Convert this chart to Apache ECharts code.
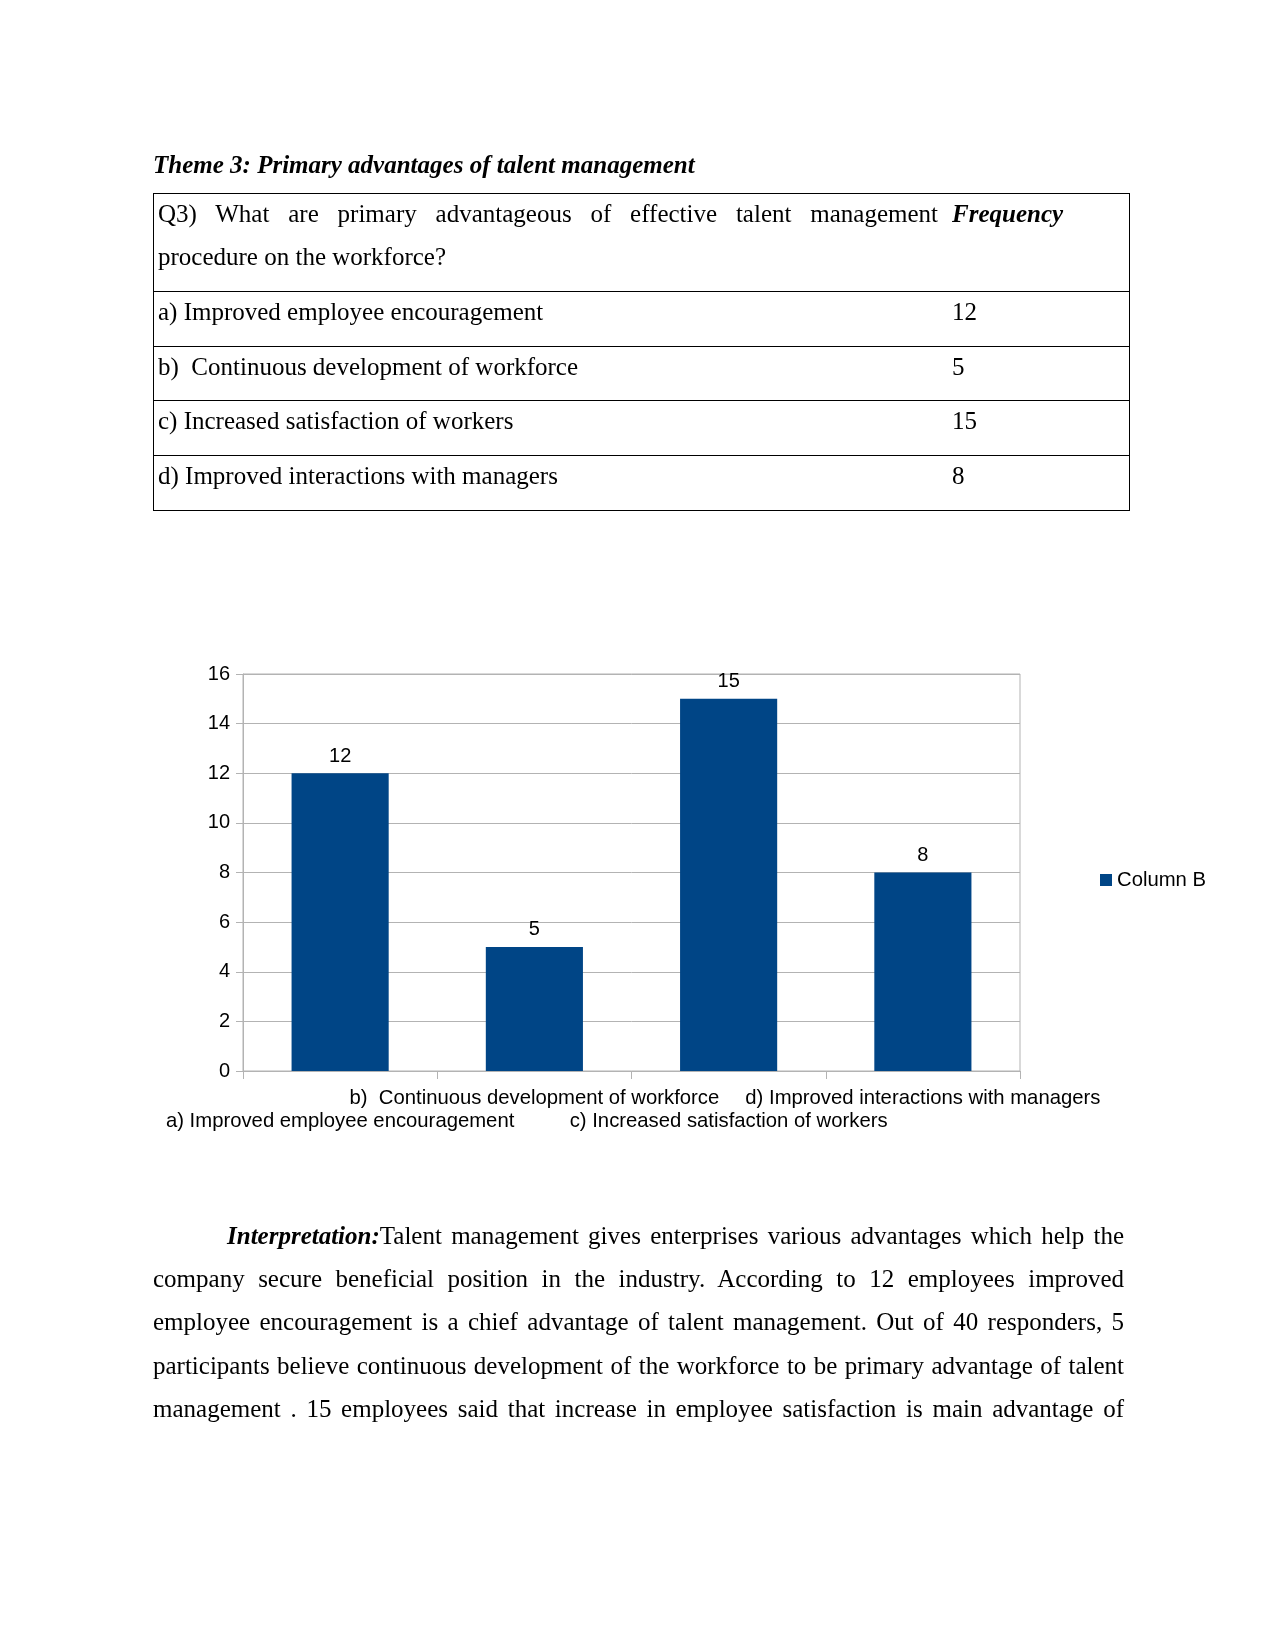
<!DOCTYPE html>
<html>
<head>
<meta charset="utf-8">
<script src="https://cdn.jsdelivr.net/npm/echarts@6/dist/echarts.min.js"></script>
<style>
  html, body { margin:0; padding:0; background:#fff; }
  body { width:1275px; height:1651px; position:relative; overflow:hidden; font-family:"Liberation Serif","Times New Roman",serif; color:#000; }
  #chart { position:absolute; left:0; top:0; width:1275px; height:1651px; }
  .t { position:absolute; font-size:25px; line-height:43px; white-space:nowrap; }
  .j { text-align:justify; text-align-last:justify; white-space:normal; }
  .bi { font-weight:bold; font-style:italic; }
  .hl { position:absolute; left:153px; width:977px; height:1px; background:#000; }
  .vl { position:absolute; top:193px; width:1px; height:318px; background:#000; }
</style>
</head>
<body>
<div id="chart"></div>

<div class="t bi" style="left:153px; top:143px;">Theme 3: Primary advantages of talent management</div>

<div class="hl" style="top:193px;"></div>
<div class="hl" style="top:291px;"></div>
<div class="hl" style="top:346px;"></div>
<div class="hl" style="top:400px;"></div>
<div class="hl" style="top:455px;"></div>
<div class="hl" style="top:510px;"></div>
<div class="vl" style="left:153px;"></div>
<div class="vl" style="left:1129px;"></div>

<div class="t j" style="left:158px; top:192px; width:780px;">Q3) What are primary advantageous of effective talent management</div>
<div class="t bi" style="left:952px; top:192px;">Frequency</div>
<div class="t" style="left:158px; top:235px;">procedure on the workforce?</div>

<div id="rows"></div>

<div class="t" style="left:227px; top:1214px; width:897px;"><div class="j"><span class="bi">Interpretation:</span>Talent management gives enterprises various advantages which help the</div></div>
<div class="t j" style="left:153px; top:1257px; width:971px;">company secure beneficial position in the industry. According to 12 employees improved</div>
<div class="t j" style="left:153px; top:1300px; width:971px;">employee encouragement is a chief advantage of talent management. Out of 40 responders, 5</div>
<div class="t j" style="left:153px; top:1344px; width:971px;">participants believe continuous development of the workforce to be primary advantage of talent</div>
<div class="t j" style="left:153px; top:1387px; width:971px;">management . 15 employees said that increase in employee satisfaction is main advantage of</div>

<script>
const categories = [
  "a) Improved employee encouragement",
  "b)  Continuous development of workforce",
  "c) Increased satisfaction of workers",
  "d) Improved interactions with managers"
];
const frequency = [12, 5, 15, 8];
const seriesName = "Column B";
const yTicks = { min: 0, max: 16, interval: 2 };

// table rows
const rowTops = [291, 346, 400, 455];
const rowsEl = document.getElementById('rows');
categories.forEach((c, i) => {
  const a = document.createElement('div');
  a.className = 't';
  a.style.left = '158px'; a.style.top = (rowTops[i] - 1) + 'px';
  a.textContent = c.replace('b)  ', 'b)\u00a0 ');
  rowsEl.appendChild(a);
  const b = document.createElement('div');
  b.className = 't';
  b.style.left = '952px'; b.style.top = (rowTops[i] - 1) + 'px';
  b.textContent = String(frequency[i]);
  rowsEl.appendChild(b);
});

const chart = echarts.init(document.getElementById('chart'), null, { renderer: 'canvas' });
const sans = '"Liberation Sans", Arial, sans-serif';
chart.setOption({
  animation: false,
  textStyle: { fontFamily: sans },
  grid: {
    left: 243, right: 255, top: 674, bottom: 580,
    show: true, borderColor: '#b3b3b3', borderWidth: 1, containLabel: false
  },
  legend: {
    data: [seriesName],
    left: 1095, top: 865,
    icon: 'rect', itemWidth: 12, itemHeight: 12,
    textStyle: { fontFamily: sans, fontSize: 20.3, color: '#000' }
  },
  xAxis: {
    type: 'category',
    data: categories,
    boundaryGap: true,
    axisLine: { show: true, lineStyle: { color: '#b3b3b3' } },
    axisTick: { show: true, length: 8, lineStyle: { color: '#b3b3b3' } },
    axisLabel: {
      interval: 0, margin: 16, color: '#000', fontFamily: sans, fontSize: 20.3, lineHeight: 23,
      formatter: (v, i) => (i % 2 === 0 ? '\n' + v : v)
    },
    splitLine: { show: false }
  },
  yAxis: {
    type: 'value',
    min: yTicks.min, max: yTicks.max, interval: yTicks.interval,
    axisLine: { show: true, lineStyle: { color: '#b3b3b3' } },
    axisTick: { show: true, length: 7, lineStyle: { color: '#b3b3b3' } },
    axisLabel: { margin: 13, color: '#000', fontFamily: sans, fontSize: 20 },
    splitLine: { show: true, lineStyle: { color: '#b3b3b3', width: 1 } }
  },
  series: [{
    name: seriesName,
    type: 'bar',
    data: frequency,
    barWidth: '50%',
    itemStyle: { color: '#004586' },
    label: { show: true, position: 'top', distance: 7, color: '#000', fontFamily: sans, fontSize: 20 }
  }]
});
</script>
</body>
</html>
